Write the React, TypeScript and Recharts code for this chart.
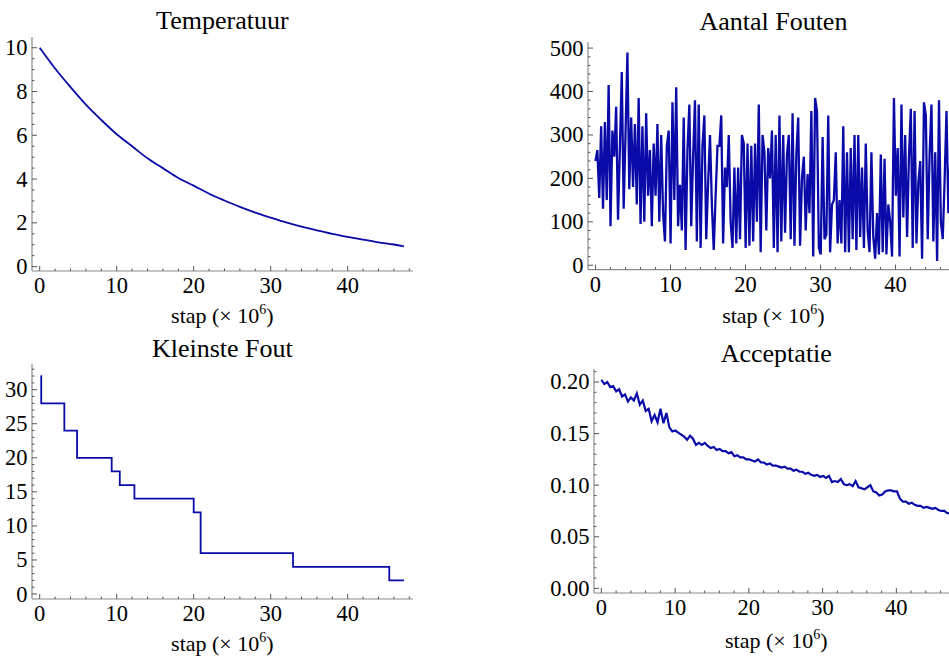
import React from 'react';
import { LineChart, Line, XAxis, YAxis } from 'recharts';

const BLUE = '#0a0aa8';
const FRAME = '#8c8c8c';
const TICK = '#555555';
const TEXT = '#000000';
const FONT = "'Liberation Serif', 'DejaVu Serif', serif";

// x is in units of 10^6 steps
const LAST_STEP = 47.3;

// Temperatuur
const tempSteps = [0, 2, 4, 6, 8, 10, 12, 14, 16, 18, 20, 22, 24, 26, 28, 30, 32, 34, 36, 38, 40, 42, 44, 46, 47.3];
const tempValues = [10, 9.05, 8.2, 7.4, 6.7, 6.05, 5.5, 4.95, 4.5, 4.05, 3.7, 3.33, 3.02, 2.73, 2.47, 2.24, 2.02, 1.83, 1.66, 1.5, 1.36, 1.23, 1.11, 1.01, 0.93];

// Aantal Fouten (evenly spaced samples)
const errorCounts = [
  240, 265, 155, 320, 130, 330, 150, 415, 90, 310, 250, 365, 105, 270, 445, 130, 305, 490, 175, 340,
  180, 325, 140, 385, 95, 320, 100, 350, 160, 265, 90, 280, 160, 325, 100, 300, 120, 55, 275, 310,
  50, 375, 150, 410, 90, 185, 80, 340, 35, 265, 370, 90, 250, 380, 55, 370, 40, 275, 345, 60,
  190, 300, 140, 35, 160, 275, 275, 345, 50, 225, 180, 300, 100, 40, 225, 50, 225, 60, 300, 280,
  40, 280, 45, 275, 55, 280, 100, 370, 30, 300, 260, 80, 270, 200, 310, 40, 300, 30, 345, 55,
  300, 75, 255, 300, 60, 350, 45, 255, 340, 45, 200, 250, 80, 210, 120, 355, 20, 385, 355, 40,
  25, 295, 60, 70, 345, 30, 140, 150, 260, 50, 150, 50, 320, 30, 260, 30, 270, 60, 300, 35,
  300, 65, 225, 40, 280, 80, 30, 260, 65, 15, 120, 25, 255, 30, 245, 25, 140, 100, 20, 385,
  160, 270, 20, 370, 110, 300, 65, 250, 360, 40, 355, 50, 190, 240, 15, 375, 345, 60, 255, 370,
  55, 260, 10, 380, 100, 60, 195, 355, 120, 240,
];

// Kleinste Fout (step function)
const bestSteps = [0.1, 0.2, 3.2, 4.85, 9.35, 10.4, 12.3, 20.0, 20.9, 32.9, 45.4, 47.3];
const bestValues = [32, 28, 24, 20, 18, 16, 14, 12, 6, 4, 2, 2];

// Acceptatie (evenly spaced samples)
const acceptRates = [
  0.202, 0.198, 0.2, 0.195, 0.196, 0.191, 0.193, 0.186, 0.188, 0.181, 0.185, 0.182, 0.189, 0.178, 0.182,
  0.172, 0.174, 0.162, 0.168, 0.161, 0.174, 0.16, 0.17, 0.156, 0.152, 0.153, 0.151, 0.149, 0.147, 0.144,
  0.148, 0.145, 0.139, 0.141, 0.139, 0.141, 0.138, 0.136, 0.137, 0.134, 0.135, 0.133, 0.133, 0.131, 0.132,
  0.128, 0.129, 0.127, 0.127, 0.125, 0.125, 0.124, 0.123, 0.125, 0.122, 0.122, 0.12, 0.121, 0.119, 0.119,
  0.118, 0.117, 0.118, 0.116, 0.116, 0.114, 0.115, 0.113, 0.113, 0.111, 0.112, 0.11, 0.109, 0.11, 0.108,
  0.109, 0.107, 0.109, 0.103, 0.104, 0.103, 0.106, 0.101, 0.1, 0.101, 0.099, 0.104, 0.098, 0.097, 0.096,
  0.098, 0.1, 0.094, 0.093, 0.09, 0.091, 0.094, 0.095, 0.095, 0.094, 0.094, 0.087, 0.084, 0.084, 0.082,
  0.083, 0.081, 0.08, 0.08, 0.078, 0.079, 0.078, 0.077, 0.078, 0.076, 0.075, 0.075, 0.073, 0.073,
];

const xMajor = [0, 10, 20, 30, 40];
const tempMajor = [0, 2, 4, 6, 8, 10];
const errorMajor = [0, 100, 200, 300, 400, 500];
const bestMajor = [0, 5, 10, 15, 20, 25, 30];
const acceptMajor = [0, 0.05, 0.1, 0.15, 0.2];

const range = (from: number, to: number, step: number) =>
  Array.from({ length: Math.round((to - from) / step) + 1 }, (_, i) => +(from + i * step).toFixed(6));

const xTicks = range(0, 48, 2);

type Pt = { x: number; y: number };
const zipPts = (xs: number[], ys: number[]): Pt[] => ys.map((y, i) => ({ x: xs[i], y }));
const evenPts = (ys: number[]): Pt[] => ys.map((y, i) => ({ x: (i * LAST_STEP) / (ys.length - 1), y }));

type Side = 'bottom' | 'top' | 'left' | 'right';

const textStyle = { fontFamily: FONT };

const makeTick = (side: Side, majors: number[], fmt: (v: number) => string) => (props: any) => {
  const { x, y, payload } = props;
  const v = Number(payload?.value);
  const major = majors.some((m) => Math.abs(m - v) < 1e-9);
  const len = major ? 5 : 2.5;
  let x2 = x;
  let y2 = y;
  if (side === 'bottom') y2 = y - len;
  if (side === 'top') y2 = y + len;
  if (side === 'left') x2 = x + len;
  if (side === 'right') x2 = x - len;
  return (
    <g>
      <line x1={x} y1={y} x2={x2} y2={y2} stroke={TICK} strokeWidth={1} />
      {major && side === 'bottom' && (
        <text x={x} y={y + 22.5} textAnchor="middle" fontSize={22.5} style={textStyle} fill={TEXT}>
          {fmt(v)}
        </text>
      )}
      {major && side === 'left' && (
        <text x={x - 4.5} y={y + 7.5} textAnchor="end" fontSize={22.5} style={textStyle} fill={TEXT}>
          {fmt(v)}
        </text>
      )}
    </g>
  );
};

interface PanelProps {
  title: string;
  left: number;
  top: number;
  width: number;
  height: number;
  titleGap: number;
  labelGap: number;
  yDomain: [number, number];
  yTicks: number[];
  yMajor: number[];
  yFmt: (v: number) => string;
  data: Pt[];
  curve: 'linear' | 'monotone' | 'stepAfter';
  strokeWidth: number;
}

const PAD = { l: 60, t: 40, r: 10, b: 64 };
const X_DOMAIN: [number, number] = [-1, 48.44];
const intFmt = (v: number) => String(Math.round(v));

const Panel = (p: PanelProps) => {
  const w = PAD.l + p.width + PAD.r;
  const h = PAD.t + p.height + PAD.b;
  const cx = PAD.l + p.width / 2;
  return (
    <div style={{ position: 'absolute', left: p.left - PAD.l, top: p.top - PAD.t, width: w, height: h }}>
      <LineChart width={w} height={h} data={p.data} margin={{ top: PAD.t, right: PAD.r, left: 0, bottom: 0 }}>
        <XAxis
          xAxisId="b"
          type="number"
          dataKey="x"
          orientation="bottom"
          height={PAD.b}
          domain={X_DOMAIN}
          allowDataOverflow
          ticks={xTicks}
          interval={0}
          tickSize={0}
          tickMargin={0}
          axisLine={{ stroke: FRAME, strokeWidth: 1.2 }}
          tickLine={false}
          tick={makeTick('bottom', xMajor, intFmt)}
        />
        <XAxis
          xAxisId="t"
          type="number"
          dataKey="x"
          orientation="top"
          height={0}
          domain={X_DOMAIN}
          allowDataOverflow
          ticks={xTicks}
          interval={0}
          tickSize={0}
          tickMargin={0}
          axisLine={{ stroke: FRAME, strokeWidth: 1.2 }}
          tickLine={false}
          tick={makeTick('top', xMajor, intFmt)}
        />
        <YAxis
          yAxisId="l"
          type="number"
          orientation="left"
          width={PAD.l}
          domain={p.yDomain}
          allowDataOverflow
          ticks={p.yTicks}
          interval={0}
          tickSize={0}
          tickMargin={0}
          axisLine={{ stroke: FRAME, strokeWidth: 1.2 }}
          tickLine={false}
          tick={makeTick('left', p.yMajor, p.yFmt)}
        />
        <YAxis
          yAxisId="r"
          type="number"
          orientation="right"
          width={0}
          domain={p.yDomain}
          allowDataOverflow
          ticks={p.yTicks}
          interval={0}
          tickSize={0}
          tickMargin={0}
          axisLine={{ stroke: FRAME, strokeWidth: 1.2 }}
          tickLine={false}
          tick={makeTick('right', p.yMajor, p.yFmt)}
        />
        <Line
          xAxisId="b"
          yAxisId="l"
          type={p.curve}
          dataKey="y"
          stroke={BLUE}
          strokeWidth={p.strokeWidth}
          dot={false}
          activeDot={false}
          isAnimationActive={false}
        />
      </LineChart>
      <svg width={w} height={h} style={{ position: 'absolute', left: 0, top: 0, pointerEvents: 'none' }}>
        <text x={cx} y={PAD.t - p.titleGap} textAnchor="middle" fontSize={26} style={textStyle} fill={TEXT}>
          {p.title}
        </text>
        <text x={cx} y={PAD.t + p.height + p.labelGap} textAnchor="middle" fontSize={22} style={textStyle} fill={TEXT}>
          stap (× 10
          <tspan dy={-9} fontSize={14}>
            6
          </tspan>
          <tspan dy={9}>)</tspan>
        </text>
      </svg>
    </div>
  );
};

export default function App() {
  return (
    <div
      style={{
        position: 'absolute',
        left: 0,
        top: 0,
        width: 949,
        height: 657,
        overflow: 'hidden',
        background: '#fff',
        fontFamily: FONT,
      }}
    >
      <Panel
        title="Temperatuur"
        left={32.3}
        top={37}
        width={380.7}
        height={234}
        titleGap={7.7}
        labelGap={52}
        yDomain={[-0.2, 10.49]}
        yTicks={range(0, 10, 0.5)}
        yMajor={tempMajor}
        yFmt={intFmt}
        data={zipPts(tempSteps, tempValues)}
        curve="monotone"
        strokeWidth={1.8}
      />
      <Panel
        title="Aantal Fouten"
        left={588.2}
        top={41.7}
        width={370.8}
        height={227.6}
        titleGap={11.7}
        labelGap={53.7}
        yDomain={[-10, 514]}
        yTicks={range(0, 500, 20)}
        yMajor={errorMajor}
        yFmt={intFmt}
        data={evenPts(errorCounts)}
        curve="linear"
        strokeWidth={2.3}
      />
      <Panel
        title="Kleinste Fout"
        left={32.3}
        top={364.3}
        width={380.7}
        height={235}
        titleGap={7}
        labelGap={52.4}
        yDomain={[-0.73, 33.77]}
        yTicks={range(0, 33, 1)}
        yMajor={bestMajor}
        yFmt={intFmt}
        data={zipPts(bestSteps, bestValues)}
        curve="stepAfter"
        strokeWidth={1.8}
      />
      <Panel
        title="Acceptatie"
        left={593.6}
        top={369.3}
        width={364.6}
        height={224}
        titleGap={7}
        labelGap={54.5}
        yDomain={[-0.0045, 0.2126]}
        yTicks={range(0, 0.21, 0.01)}
        yMajor={acceptMajor}
        yFmt={(v) => v.toFixed(2)}
        data={evenPts(acceptRates)}
        curve="linear"
        strokeWidth={2.2}
      />
    </div>
  );
}
